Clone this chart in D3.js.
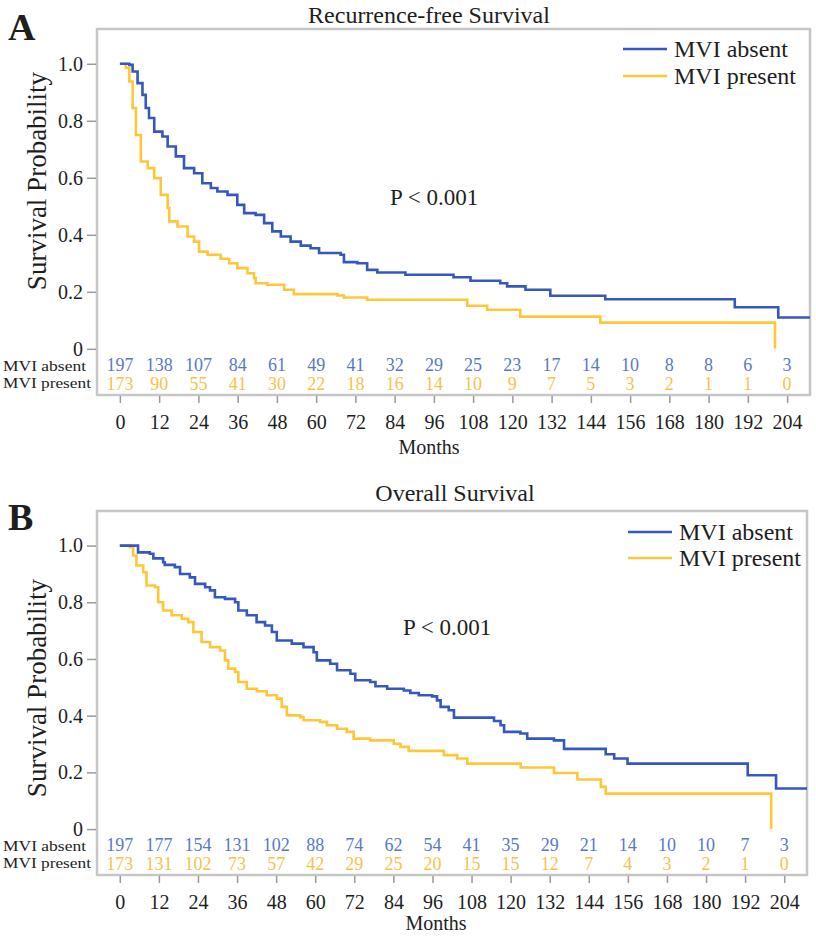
<!DOCTYPE html>
<html>
<head>
<meta charset="utf-8">
<script src="https://cdn.jsdelivr.net/npm/d3@7"></script>
<style>
  html, body { margin: 0; padding: 0; background: #fff; }
  svg { display: block; }
  text { font-family: "Liberation Serif", "Times New Roman", serif; fill: #1e1e1e; }
</style>
</head>
<body>
<svg id="chart" width="816" height="936"></svg>
<script>
// ---------- DATA ----------
const monthTicks = [0, 12, 24, 36, 48, 60, 72, 84, 96, 108, 120, 132, 144, 156, 168, 180, 192, 204];
const probTicks = [0, 0.2, 0.4, 0.6, 0.8, 1.0];
const seriesNames = ["MVI absent", "MVI present"];

// Panel A: Recurrence-free survival, [month, survival] at each step
const rfsAbsent = [[0,1],[2.9,0.996],[3.9,0.973],[5.4,0.932],[6.9,0.891],[7.9,0.845],[8.9,0.81],[10.5,0.762],[13.0,0.745],[14.6,0.71],[17.1,0.675],[19.6,0.634],[22.7,0.616],[25.2,0.581],[27.8,0.564],[29.8,0.552],[32.9,0.54],[35.9,0.505],[38,0.476],[41.5,0.47],[44.1,0.441],[46.6,0.412],[49.2,0.394],[52.2,0.376],[55.3,0.362],[58.3,0.353],[60.9,0.336],[67.5,0.33],[68.5,0.304],[72.6,0.30],[75.6,0.277],[78.7,0.268],[87.3,0.26],[102,0.251],[107.2,0.239],[116.3,0.23],[118.4,0.219],[124,0.207],[131.6,0.186],[148.4,0.174],[188,0.146],[201.3,0.11],[211,0.11]];
const rfsPresent = [[0,1],[1.8,0.985],[2.9,0.938],[3.9,0.845],[4.9,0.75],[6.4,0.657],[8.5,0.634],[10.5,0.599],[12.5,0.54],[14.6,0.494],[15.1,0.447],[17.6,0.429],[20.7,0.394],[22.7,0.376],[24.2,0.341],[26.8,0.33],[30.8,0.316],[33.4,0.30],[35.9,0.283],[39,0.265],[41,0.248],[41.5,0.23],[45.1,0.225],[50.2,0.207],[53.2,0.192],[66.5,0.187],[68.5,0.18],[75.6,0.172],[106.2,0.151],[112.3,0.137],[122.4,0.113],[146.9,0.092],[200.3,0]];
const rfsRiskAbsent = [197, 138, 107, 84, 61, 49, 41, 32, 29, 25, 23, 17, 14, 10, 8, 8, 6, 3];
const rfsRiskPresent = [173, 90, 55, 41, 30, 22, 18, 16, 14, 10, 9, 7, 5, 3, 2, 1, 1, 0];

// Panel B: Overall survival
const osAbsent = [[0,1],[5.6,0.976],[9.2,0.971],[10.3,0.955],[13.3,0.941],[13.8,0.932],[16.9,0.924],[18.5,0.90],[21.5,0.888],[23.1,0.865],[26.2,0.853],[27.7,0.842],[29.2,0.818],[32.3,0.812],[35.4,0.80],[36.4,0.771],[39,0.754],[42,0.73],[44.6,0.718],[46.7,0.695],[48.2,0.665],[52.8,0.654],[56.4,0.642],[59.5,0.624],[60.5,0.595],[64.6,0.583],[66.7,0.56],[70.8,0.548],[72.3,0.525],[76.9,0.519],[78.5,0.504],[82.1,0.495],[87.2,0.489],[89.2,0.48],[91.8,0.472],[95.9,0.468],[97.4,0.454],[98.5,0.431],[101,0.419],[102.6,0.393],[114.9,0.381],[116.9,0.366],[118,0.343],[123,0.337],[125.1,0.319],[133.3,0.313],[136.4,0.283],[149.2,0.264],[151.8,0.249],[155.9,0.231],[192.8,0.19],[201.5,0.143],[211,0.143]];
const osPresent = [[0,1],[3.1,0.994],[4.1,0.965],[5.1,0.93],[7.2,0.906],[8.2,0.859],[10.8,0.853],[11.8,0.80],[13.3,0.771],[15.9,0.754],[19,0.742],[21,0.73],[22.6,0.695],[25.1,0.66],[27.7,0.642],[30.8,0.63],[32.3,0.595],[33.3,0.566],[35.4,0.554],[36.4,0.519],[39,0.495],[42.1,0.486],[45.1,0.472],[48.2,0.46],[49.7,0.431],[51.3,0.401],[55.4,0.395],[56.4,0.384],[61.5,0.378],[63.6,0.366],[66.7,0.354],[69.7,0.343],[71.8,0.319],[76.9,0.313],[84.1,0.301],[86.2,0.29],[88.7,0.276],[99.5,0.261],[103.6,0.249],[106.7,0.231],[123.1,0.217],[133.3,0.198],[140.5,0.175],[147.7,0.149],[149.2,0.125],[200,0]];
const osRiskAbsent = [197, 177, 154, 131, 102, 88, 74, 62, 54, 41, 35, 29, 21, 14, 10, 10, 7, 3];
const osRiskPresent = [173, 131, 102, 73, 57, 42, 29, 25, 20, 15, 15, 12, 7, 4, 3, 2, 1, 0];

// ---------- STYLE ----------
const lineColors = ["#3658be", "#ffc638"];
const numColors = ["#5a78c8", "#f7c24a"];
const frameColor = "#c6c6c6";

const svg = d3.select("#chart");

function drawPanel(cfg) {
  const g = svg.append("g");
  const x = d3.scaleLinear().domain([-7, 211]).range([cfg.left, cfg.right]);
  const y = d3.scaleLinear().domain([-0.162, 1.122]).range([cfg.bottom, cfg.top]);

  // Frame
  g.append("rect")
    .attr("x", cfg.left).attr("y", cfg.top)
    .attr("width", cfg.right - cfg.left).attr("height", cfg.bottom - cfg.top)
    .attr("fill", "none").attr("stroke", frameColor).attr("stroke-width", 2.5);

  // X axis
  const xAxis = g.append("g")
    .attr("transform", `translate(0,${cfg.bottom + 1})`)
    .call(d3.axisBottom(x).tickValues(monthTicks).tickSize(7).tickPadding(12).tickFormat(d3.format("d")));
  xAxis.select(".domain").remove();
  xAxis.selectAll(".tick line").attr("stroke", "#9a9a9a").attr("stroke-width", 1.5);
  xAxis.selectAll(".tick text").style("font-family", "Liberation Serif").style("font-size", "20px").attr("fill", "#1e1e1e");

  // Y axis
  const yAxis = g.append("g")
    .attr("transform", `translate(${cfg.left - 1},0)`)
    .call(d3.axisLeft(y).tickValues(probTicks).tickSize(9).tickPadding(4)
      .tickFormat(d => d === 0 ? "0" : d3.format(".1f")(d)));
  yAxis.select(".domain").remove();
  yAxis.selectAll(".tick line").attr("stroke", "#9a9a9a").attr("stroke-width", 1.5);
  yAxis.selectAll(".tick text").style("font-family", "Liberation Serif").style("font-size", "20px").attr("fill", "#1e1e1e");

  // Curves
  const line = d3.line().x(d => x(d[0])).y(d => y(d[1])).curve(d3.curveStepAfter);
  [cfg.present, cfg.absent].forEach((s, i) => {
    g.append("path").datum(s)
      .attr("d", line)
      .attr("fill", "none")
      .attr("stroke", i === 0 ? lineColors[1] : lineColors[0])
      .attr("stroke-width", 2.6)
      .attr("stroke-linejoin", "miter");
  });

  // At-risk numbers
  [cfg.riskAbsent, cfg.riskPresent].forEach((arr, i) => {
    g.append("g").selectAll("text").data(arr).join("text")
      .attr("x", (d, j) => x(monthTicks[j]))
      .attr("y", cfg.bottom - (i === 0 ? 24 : 5.5))
      .attr("text-anchor", "middle")
      .style("font-size", "18px")
      .style("fill", numColors[i])
      .text(d => d);
  });
  // At-risk row labels
  seriesNames.forEach((n, i) => {
    g.append("text")
      .attr("x", 3)
      .attr("y", cfg.bottom - (i === 0 ? 24 : 7))
      .style("font-size", "15px")
      .attr("textLength", i === 0 ? 83 : 88)
      .attr("lengthAdjust", "spacingAndGlyphs")
      .text(n);
  });

  // Legend
  seriesNames.forEach((n, i) => {
    const ly = cfg.legendY + i * cfg.legendGap;
    g.append("line")
      .attr("x1", cfg.legendX).attr("x2", cfg.legendX + 44)
      .attr("y1", ly).attr("y2", ly)
      .attr("stroke", lineColors[i]).attr("stroke-width", 2.6);
    g.append("text")
      .attr("x", cfg.legendX + 51).attr("y", ly + 8)
      .style("font-size", "24px")
      .text(n);
  });

  // P value
  g.append("text").attr("x", cfg.pX).attr("y", cfg.pY).style("font-size", "23px").text("P < 0.001");

  // Title
  g.append("text").attr("x", cfg.titleX).attr("y", cfg.titleY)
    .attr("text-anchor", "middle").style("font-size", "24px").text(cfg.title);

  // Panel letter
  g.append("text").attr("x", 8).attr("y", cfg.letterY)
    .style("font-size", "38px").style("font-weight", "bold").text(cfg.letter);

  // Y axis title
  g.append("text")
    .attr("transform", `translate(46,${cfg.yLabelY}) rotate(-90)`)
    .attr("text-anchor", "middle")
    .style("font-size", "27px")
    .text("Survival Probability");

  // X axis title
  g.append("text").attr("x", cfg.monthsX).attr("y", cfg.bottom + cfg.monthsDy)
    .attr("text-anchor", "middle").style("font-size", "20px").text("Months");
}

drawPanel({
  left: 97, right: 810, top: 29, bottom: 395,
  absent: rfsAbsent, present: rfsPresent,
  riskAbsent: rfsRiskAbsent, riskPresent: rfsRiskPresent,
  legendX: 623, legendY: 49, legendGap: 27,
  pX: 390, pY: 205,
  title: "Recurrence-free Survival", titleX: 429, titleY: 23,
  letter: "A", letterY: 40, yLabelY: 181, monthsX: 429, monthsDy: 59
});

drawPanel({
  left: 97, right: 807, top: 511, bottom: 875,
  absent: osAbsent, present: osPresent,
  riskAbsent: osRiskAbsent, riskPresent: osRiskPresent,
  legendX: 628, legendY: 532, legendGap: 26,
  pX: 403, pY: 635,
  title: "Overall Survival", titleX: 455, titleY: 501,
  letter: "B", letterY: 530, yLabelY: 688, monthsX: 436, monthsDy: 55
});
</script>
</body>
</html>
